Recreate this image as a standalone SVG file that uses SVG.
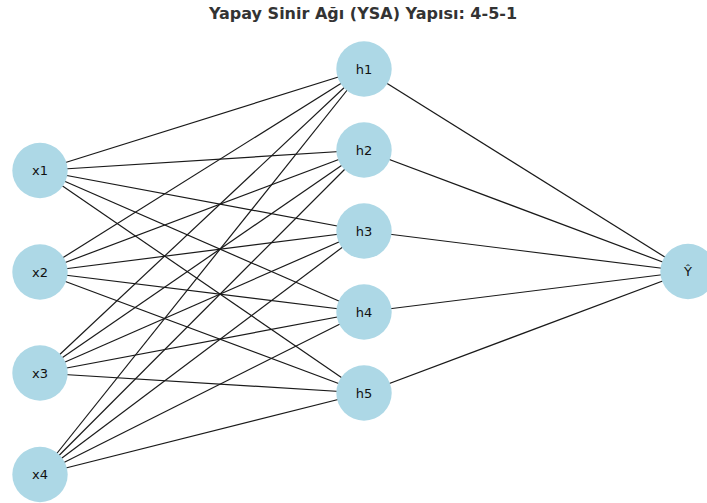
<svg xmlns="http://www.w3.org/2000/svg" width="707" height="503" viewBox="0 0 707 503">
<style>
.n{fill:#add8e6;}
.t{font-family:"DejaVu Sans",sans-serif;font-size:13px;fill:#111;text-anchor:middle;dominant-baseline:central;}
.e line{stroke:#1a1a1a;stroke-width:1.2;}
.title{font-family:"DejaVu Sans",sans-serif;font-size:16px;font-weight:bold;fill:#333;text-anchor:middle;}
</style>
<rect width="707" height="503" fill="#fff"/>
<text class="title" x="363" y="19">Yapay Sinir Ağı (YSA) Yapısı: 4-5-1</text>
<g id="edges" class="e">
<line x1="40" y1="170.5" x2="364" y2="69"/><line x1="40" y1="170.5" x2="364" y2="150"/><line x1="40" y1="170.5" x2="364" y2="231"/><line x1="40" y1="170.5" x2="364" y2="312"/><line x1="40" y1="170.5" x2="364" y2="393"/>
<line x1="40" y1="272" x2="364" y2="69"/><line x1="40" y1="272" x2="364" y2="150"/><line x1="40" y1="272" x2="364" y2="231"/><line x1="40" y1="272" x2="364" y2="312"/><line x1="40" y1="272" x2="364" y2="393"/>
<line x1="40" y1="373" x2="364" y2="69"/><line x1="40" y1="373" x2="364" y2="150"/><line x1="40" y1="373" x2="364" y2="231"/><line x1="40" y1="373" x2="364" y2="312"/><line x1="40" y1="373" x2="364" y2="393"/>
<line x1="40" y1="474.5" x2="364" y2="69"/><line x1="40" y1="474.5" x2="364" y2="150"/><line x1="40" y1="474.5" x2="364" y2="231"/><line x1="40" y1="474.5" x2="364" y2="312"/><line x1="40" y1="474.5" x2="364" y2="393"/>
<line x1="364" y1="69" x2="688" y2="271.5"/><line x1="364" y1="150" x2="688" y2="271.5"/><line x1="364" y1="231" x2="688" y2="271.5"/><line x1="364" y1="312" x2="688" y2="271.5"/><line x1="364" y1="393" x2="688" y2="271.5"/>
</g>
<g id="x1"><circle class="n" cx="40" cy="170.5" r="27.7"/><text class="t" x="40" y="170.5">x1</text></g>
<g id="x2"><circle class="n" cx="40" cy="272" r="27.7"/><text class="t" x="40" y="272">x2</text></g>
<g id="x3"><circle class="n" cx="40" cy="373" r="27.7"/><text class="t" x="40" y="373">x3</text></g>
<g id="x4"><circle class="n" cx="40" cy="474.5" r="27.7"/><text class="t" x="40" y="474.5">x4</text></g>
<g id="h1"><circle class="n" cx="364" cy="69" r="27.7"/><text class="t" x="364" y="69">h1</text></g>
<g id="h2"><circle class="n" cx="364" cy="150" r="27.7"/><text class="t" x="364" y="150">h2</text></g>
<g id="h3"><circle class="n" cx="364" cy="231" r="27.7"/><text class="t" x="364" y="231">h3</text></g>
<g id="h4"><circle class="n" cx="364" cy="312" r="27.7"/><text class="t" x="364" y="312">h4</text></g>
<g id="h5"><circle class="n" cx="364" cy="393" r="27.7"/><text class="t" x="364" y="393">h5</text></g>
<g id="y"><circle class="n" cx="688" cy="271.5" r="27.7"/><text class="t" x="688" y="271.5">Ŷ</text></g>
</svg>
